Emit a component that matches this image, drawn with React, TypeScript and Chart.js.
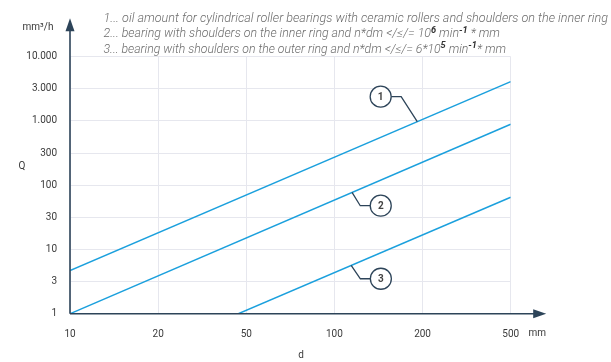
import { useEffect, useRef } from 'react';
import { Chart, registerables } from 'chart.js';

Chart.register(...registerables);

// Diameter axis: evenly spaced labelled steps (position 0 = 10 mm ... 5 = 500 mm)
const xTickLabels = ['10', '20', '50', '100', '200', '500'];
// Oil amount axis: logarithmic, one tick per half decade
const yTickLabels = ['1', '3', '10', '30', '100', '300', '1.000', '3.000', '10.000'];

// Curve end points: position on the diameter axis and oil amount Q in mm³/h
const curve1X = [0, 5];
const curve1Q = [4.7, 4100];
const curve2X = [0, 5];
const curve2Q = [1, 890];
const curve3X = [1.91, 5];
const curve3Q = [1, 65];

// Numbered callouts: which curve, and where along the diameter axis they point
const calloutLabels = ['1', '2', '3'];
const calloutCurve = [0, 1, 2];
const calloutAt = [3.94, 3.2, 3.19];

type Seg = [string, boolean];
const notes: Seg[][] = [
  [['1... oil amount for cylindrical roller bearings with ceramic rollers and shoulders on the inner ring', false]],
  [
    ['2... bearing with shoulders on the inner ring and n*dm </\u2264/= 10', false],
    ['6', true],
    [' min', false],
    ['-1', true],
    [' * mm', false],
  ],
  [
    ['3... bearing with shoulders on the outer ring and n*dm </\u2264/= 6*10', false],
    ['5', true],
    [' min', false],
    ['-1', true],
    ['* mm', false],
  ],
];

const LINE = '#1ba0dd';
const AXIS = '#2d4459';
const GRID = '#e6e7ee';
const TICK = '#3a3a3a';
const NOTE = '#6c6c6c';
const FONT = 'Roboto, "Noto Sans", sans-serif';

const toPoints = (xs: number[], qs: number[]) => xs.map((x, i) => ({ x, y: qs[i] }));

// circle offset from the anchor point (px) and the side the leader leaves the circle
const calloutStyle = [
  { dx: -36.6, dy: -25, side: 1 },
  { dx: 28.7, dy: 13.3, side: -1 },
  { dx: 29.7, dy: 13.3, side: -1 },
];

// note layout: left edge, baselines and right ends of each line
const NOTE_LEFT = 103.5;
const noteBaselines = [22, 37.3, 52.6];
const noteRightEnds = [608, 500, 506];

const decorations = {
  id: 'decorations',
  afterDatasetsDraw(chart: any) {
    const { ctx, chartArea: a, scales } = chart;
    const xs = scales.x;
    const ys = scales.y;
    ctx.save();

    // callouts
    calloutLabels.forEach((label, i) => {
      const pts = chart.data.datasets[calloutCurve[i]].data as { x: number; y: number }[];
      const p0 = pts[0];
      const p1 = pts[pts.length - 1];
      const t = (calloutAt[i] - p0.x) / (p1.x - p0.x);
      const q = Math.pow(10, Math.log10(p0.y) + t * (Math.log10(p1.y) - Math.log10(p0.y)));
      const ax = xs.getPixelForValue(calloutAt[i]);
      const ay = ys.getPixelForValue(q);
      const st = calloutStyle[i];
      const cx = ax + st.dx;
      const cy = ay + st.dy;
      const r = 10.5;
      const edge = cx + st.side * r;
      const elbow = cx + st.side * (r + 10);
      ctx.strokeStyle = AXIS;
      ctx.lineWidth = 1.3;
      ctx.beginPath();
      ctx.moveTo(edge, cy);
      ctx.lineTo(elbow, cy);
      ctx.lineTo(ax, ay);
      ctx.stroke();
      ctx.beginPath();
      ctx.arc(cx, cy, r, 0, Math.PI * 2);
      ctx.fillStyle = '#ffffff';
      ctx.fill();
      ctx.stroke();
      ctx.fillStyle = '#444444';
      ctx.font = `bold 10px ${FONT}`;
      ctx.textAlign = 'center';
      ctx.textBaseline = 'middle';
      ctx.fillText(label, cx, cy + 0.5);
    });

    // axes with arrow heads
    ctx.strokeStyle = AXIS;
    ctx.fillStyle = AXIS;
    ctx.lineWidth = 1.6;
    ctx.beginPath();
    ctx.moveTo(a.left, a.bottom);
    ctx.lineTo(a.right + 24, a.bottom);
    ctx.moveTo(a.left, a.bottom);
    ctx.lineTo(a.left, a.top - 26);
    ctx.stroke();
    ctx.beginPath();
    ctx.moveTo(a.right + 22.5, a.bottom - 4.5);
    ctx.lineTo(a.right + 35.5, a.bottom);
    ctx.lineTo(a.right + 22.5, a.bottom + 4.5);
    ctx.closePath();
    ctx.fill();
    ctx.beginPath();
    ctx.moveTo(a.left - 4.5, a.top - 25.5);
    ctx.lineTo(a.left, a.top - 38.5);
    ctx.lineTo(a.left + 4.5, a.top - 25.5);
    ctx.closePath();
    ctx.fill();

    // axis titles and units
    ctx.fillStyle = TICK;
    ctx.font = `10px ${FONT}`;
    ctx.textAlign = 'center';
    ctx.textBaseline = 'middle';
    ctx.fillText('mm\u00b3/h', 38, 27);
    ctx.fillText('Q', 22, 166);
    ctx.fillText('mm', a.right + 26.5, a.bottom + 19.5);
    ctx.fillText('d', 301, 355);

    // notes above the plot
    ctx.textAlign = 'left';
    ctx.textBaseline = 'alphabetic';
    const noteFont = `italic 300 12px ${FONT}`;
    const supFont = `italic bold 9px ${FONT}`;
    notes.forEach((segs, li) => {
      let natural = 0;
      segs.forEach(([text, sup]) => {
        ctx.font = sup ? supFont : noteFont;
        natural += ctx.measureText(text).width;
      });
      const sx = (noteRightEnds[li] - NOTE_LEFT) / natural;
      ctx.save();
      ctx.translate(NOTE_LEFT, noteBaselines[li]);
      ctx.scale(sx, 1);
      let px = 0;
      segs.forEach(([text, sup]) => {
        ctx.font = sup ? supFont : noteFont;
        ctx.fillStyle = sup ? '#333333' : NOTE;
        ctx.fillText(text, px, sup ? -4.5 : 0);
        px += ctx.measureText(text).width;
      });
      ctx.restore();
    });

    ctx.restore();
  },
};

export default function App() {
  const ref = useRef<HTMLCanvasElement | null>(null);

  useEffect(() => {
    document.body.style.margin = '0';
    const canvas = ref.current;
    if (!canvas) return;
    const lineSet = (data: { x: number; y: number }[]) => ({
      data,
      borderColor: LINE,
      borderWidth: 1.5,
      pointRadius: 0,
      fill: false,
      tension: 0,
    });
    const chart = new Chart(canvas, {
      type: 'line',
      data: {
        datasets: [
          lineSet(toPoints(curve1X, curve1Q)),
          lineSet(toPoints(curve2X, curve2Q)),
          lineSet(toPoints(curve3X, curve3Q)),
        ],
      },
      options: {
        responsive: false,
        animation: false,
        events: [],
        layout: { padding: { left: 0, top: 56.7, right: 100.3, bottom: 0 } },
        plugins: { legend: { display: false }, tooltip: { enabled: false } },
        scales: {
          x: {
            type: 'linear',
            min: 0,
            max: xTickLabels.length - 1,
            afterFit: (s: any) => {
              s.height = 48.3;
            },
            ticks: {
              stepSize: 1,
              padding: 14.5,
              maxRotation: 0,
              color: TICK,
              font: { family: FONT, size: 10 },
              callback: (v: any) => xTickLabels[Math.round(Number(v))] ?? '',
            },
            grid: { color: GRID, lineWidth: 1, drawTicks: false },
            border: { display: false },
          },
          y: {
            type: 'logarithmic',
            min: 1,
            max: 10000,
            afterFit: (s: any) => {
              s.width = 70;
            },
            afterBuildTicks: (s: any) => {
              s.ticks = yTickLabels.map((_, i) => ({ value: Math.pow(10, i / 2) }));
            },
            ticks: {
              padding: 13,
              color: TICK,
              font: { family: FONT, size: 10 },
              callback: (_v: any, i: number) => yTickLabels[i] ?? '',
            },
            grid: { color: GRID, lineWidth: 1, drawTicks: false },
            border: { display: false },
          },
        },
      },
      plugins: [decorations],
    });
    return () => chart.destroy();
  }, []);

  return (
    <div style={{ position: 'absolute', left: 0, top: 0, width: 611, height: 362, background: '#fff' }}>
      <canvas ref={ref} width={611} height={362} />
    </div>
  );
}
